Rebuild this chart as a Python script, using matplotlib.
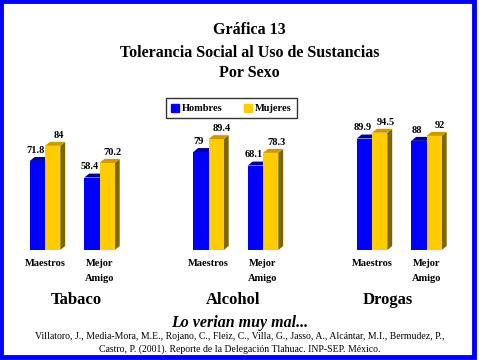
import matplotlib
matplotlib.use('Agg')
import matplotlib.pyplot as plt
from matplotlib.patches import Polygon, Rectangle, Patch
import numpy as np

plt.rcParams['font.family'] = ['Liberation Serif', 'DejaVu Serif']

# data
grupos = ['Tabaco', 'Alcohol', 'Drogas']
categorias = ['Maestros', 'Mejor\nAmigo'] * 3
hombres = [71.8, 58.4, 79, 68.1, 89.9, 88]
mujeres = [84, 70.2, 89.4, 78.3, 94.5, 92]
series = ['Hombres', 'Mujeres']

pos = np.array([0, 1, 3, 4, 6, 7])
w = 0.28
dx, dy = 0.09, 3.2

col_front = ['#0000FF', '#FFCC00']
col_top = ['#000099', '#CC9900']
col_side = ['#00006E', '#806600']
lab_shift = [-0.08, 0.06]

fig = plt.figure(figsize=(4.8, 3.6), dpi=100)
fig.patch.set_facecolor('white')

# blue frame
fig.add_artist(Rectangle((0.002, 0.008), 0.986, 0.988, transform=fig.transFigure,
                         fill=False, edgecolor='#0000FF', linewidth=3.5))

ax = fig.add_axes([0.0417, 0.3056, 0.9167, 0.3889])
ax.set_xlim(-0.459, 7.615)
ax.set_ylim(0, 112.9)
ax.axis('off')

for s, vals in enumerate([hombres, mujeres]):
    xs = pos - w + s * w
    ax.bar(xs, vals, width=w, align='edge', color=col_front[s], zorder=2 + s)
    for x0, v in zip(xs, vals):
        top = [(x0, v), (x0 + w, v), (x0 + w + dx, v + dy), (x0 + dx, v + dy)]
        side = [(x0 + w, 0), (x0 + w + dx, dy), (x0 + w + dx, v + dy), (x0 + w, v)]
        ax.add_patch(Polygon(top, closed=True, facecolor=col_top[s], edgecolor='none', zorder=2 + s))
        ax.add_patch(Polygon(side, closed=True, facecolor=col_side[s], edgecolor='none', zorder=1 + s))
        ax.text(x0 + w / 2 + dx / 2 + lab_shift[s], v + dy + 1.8, f'{v:g}', ha='center', va='bottom',
                fontsize=7.5, fontweight='bold', zorder=5)

for x, c in zip(pos, categorias):
    ax.text(x, -7, c, ha='center', va='top', fontsize=7.5, fontweight='bold', linespacing=1.9)

for x, g in zip([0.57, 3.45, 6.29], grupos):
    ax.text(x, -40.5, g, ha='center', va='center', fontsize=12, fontweight='bold')

leg = fig.legend(handles=[Patch(color=col_front[i], label=series[i]) for i in range(2)],
                 loc='center', bbox_to_anchor=(0.482, 0.699), ncol=2,
                 prop={'weight': 'bold', 'size': 7.5}, frameon=True, fancybox=False,
                 edgecolor='black', handlelength=0.8, handleheight=0.8,
                 handletextpad=0.3, columnspacing=2.0, borderpad=0.5)
leg.get_frame().set_linewidth(1.0)

fig.text(0.52, 0.916, 'Gráfica 13', ha='center', va='center', fontsize=11.5, fontweight='bold')
fig.text(0.52, 0.853, 'Tolerancia Social al Uso de Sustancias', ha='center', va='center',
         fontsize=11.5, fontweight='bold')
fig.text(0.52, 0.797, 'Por Sexo', ha='center', va='center', fontsize=11.5, fontweight='bold')

fig.text(0.5, 0.103, 'Lo verian muy mal...', ha='center', va='center', fontsize=11.5,
         style='italic', fontweight='bold')
fig.text(0.5, 0.066, 'Villatoro, J., Media-Mora, M.E., Rojano, C., Fleiz, C., Villa, G., Jasso, A., '
         'Alcántar, M.I., Bermudez, P.,', ha='center', va='center', fontsize=7)
fig.text(0.5, 0.030, 'Castro, P. (2001). Reporte de la Delegación Tlahuac. INP-SEP. México.',
         ha='center', va='center', fontsize=7)

fig.savefig('out.png', dpi=100)
